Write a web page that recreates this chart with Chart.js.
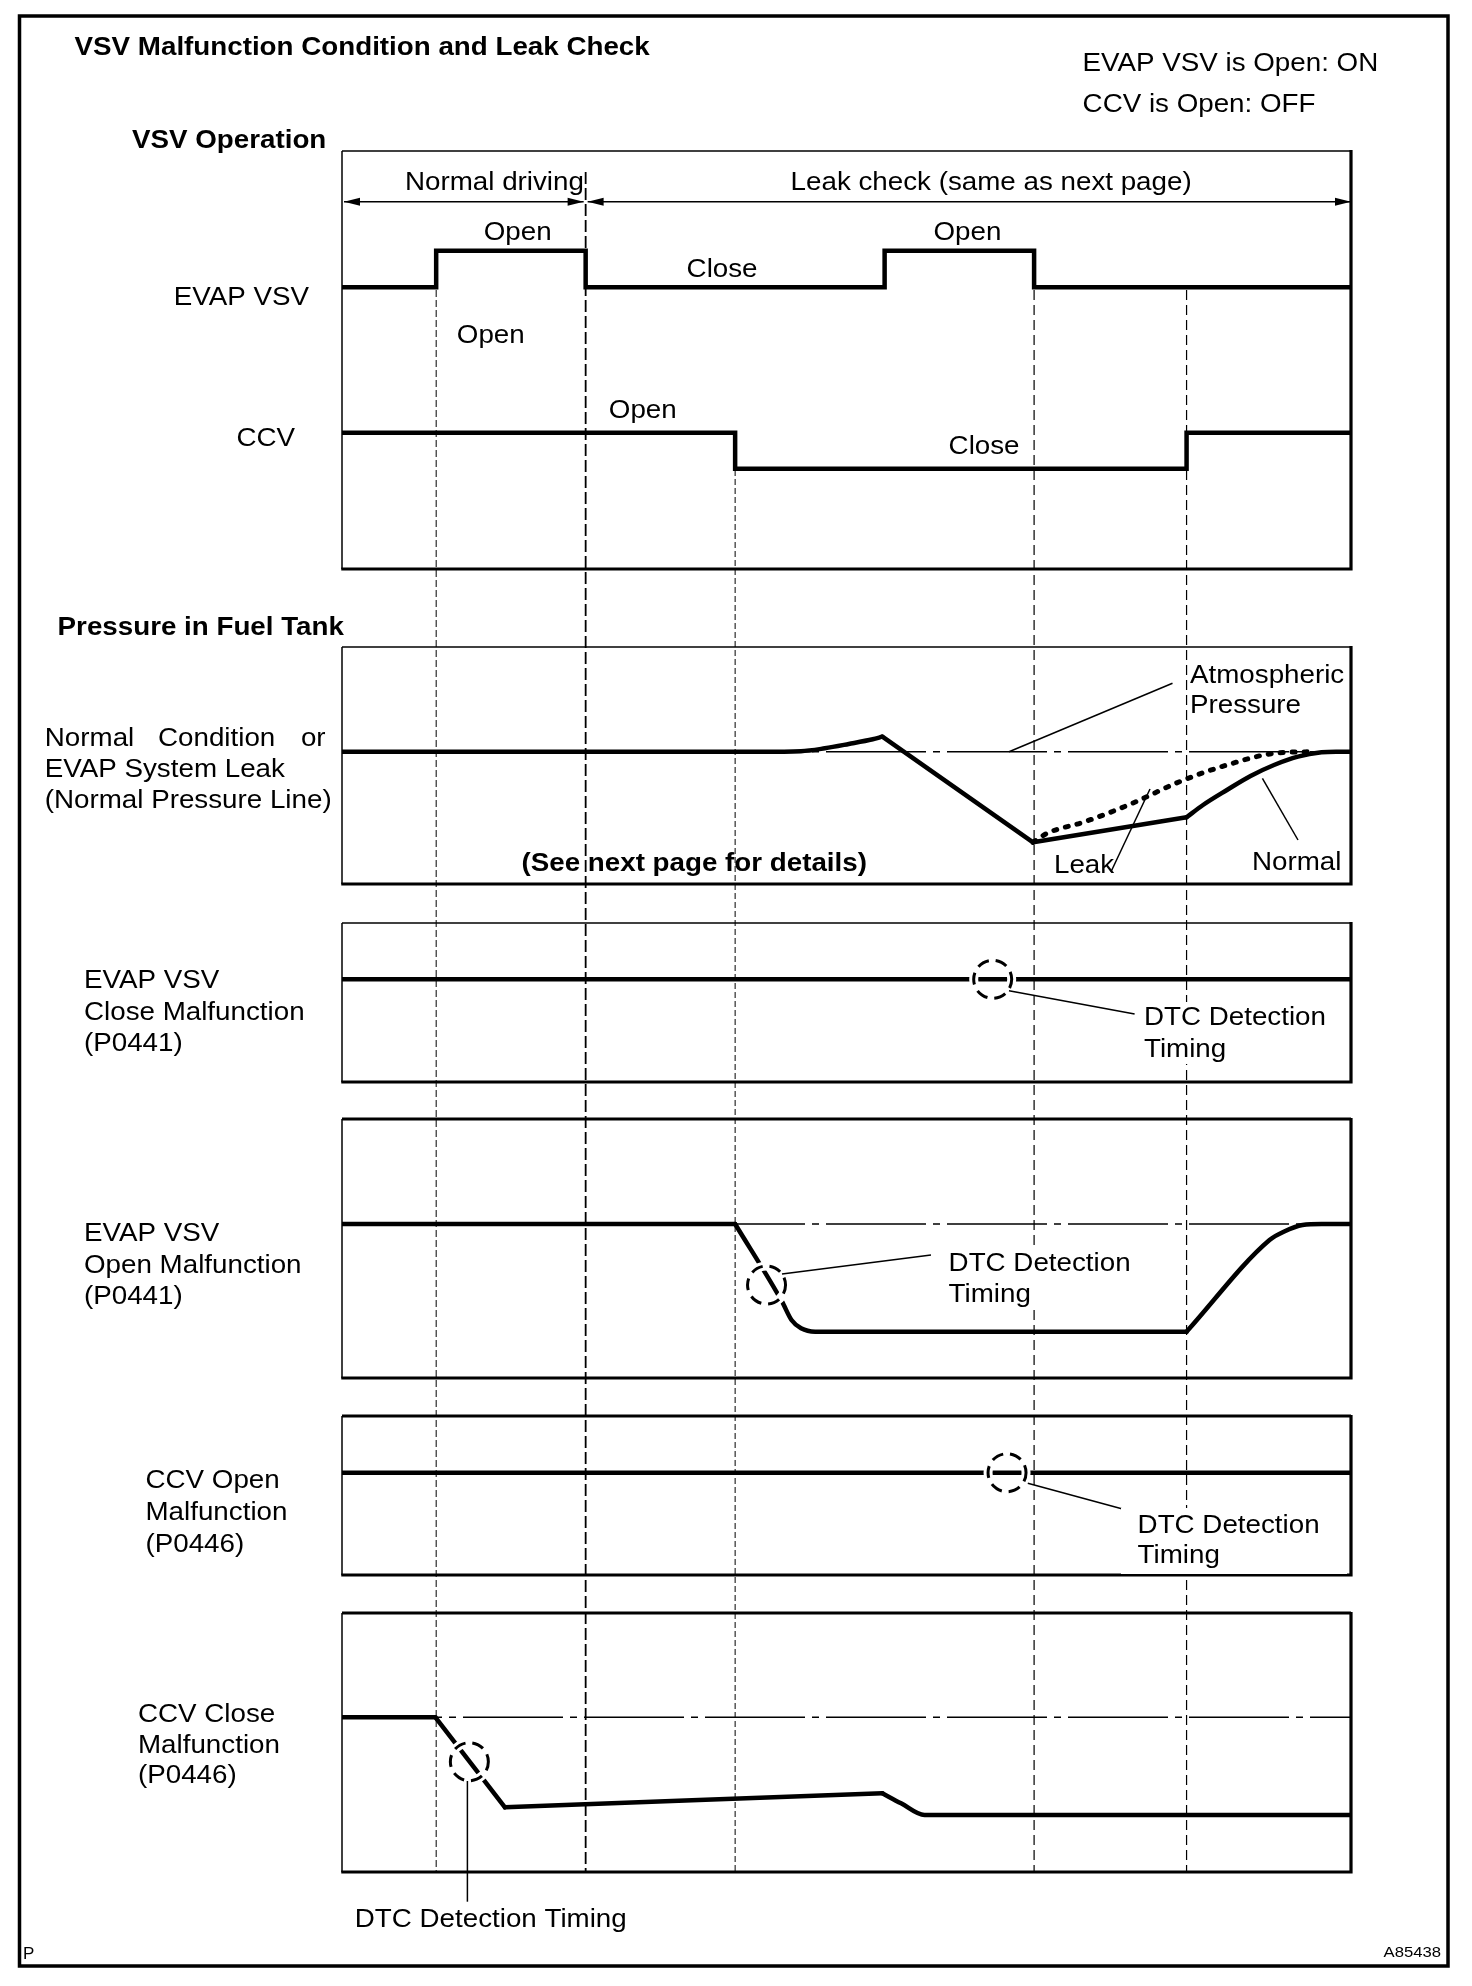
<!DOCTYPE html>
<html><head><meta charset="utf-8">
<script src="https://cdn.jsdelivr.net/npm/chart.js@4.4.1/dist/chart.umd.min.js"></script>
<style>
html,body{margin:0;padding:0;background:#fff;}
#page{position:relative;width:1472px;height:1986px;overflow:hidden;background:#fff;}
#page canvas{position:absolute;}
</style></head><body>
<div id="page"></div>
<script>
// ================= DATA =================
// time axis (arbitrary units, one unit = one phase of the sequence)
const TIME_RANGE = [0.37, 7.12];
const GUIDE_TIMES = [1.0, 2.0, 3.0, 5.0, 6.02];
const PHASE_SPLIT = 2.0; // Normal driving | Leak check

// VSV operation: 1 = open, 0 = closed
const EVAP_VSV_T = [0.37, 1.0, 2.0, 4.0, 5.0, 7.12];
const EVAP_VSV_STATE = [0, 1, 0, 1, 0, 0];
const CCV_T = [0.37, 3.0, 6.02, 7.12];
const CCV_STATE = [1, 0, 1, 1];

// Fuel tank pressure relative to atmospheric (0 = atmospheric)
const ATMOS_T = [0.37, 7.12];
const ATMOS_P = [0, 0];

const NORMAL_T = [0.37, 3.17, 3.44, 3.60, 3.76, 3.92, 3.985, 4.993, 6.02, 6.13, 6.29, 6.448, 6.605, 6.765, 6.923, 7.02, 7.12];
const NORMAL_P = [0, 0, 0.005, 0.034, 0.077, 0.124, 0.15, -0.906, -0.656, -0.533, -0.383, -0.243, -0.133, -0.05, -0.006, 0, 0];
const NORMAL_CORNERS = [6, 7, 8];

const LEAK_T = [4.993, 5.087, 5.34, 5.657, 5.973, 6.29, 6.606, 6.859];
const LEAK_P = [-0.906, -0.816, -0.70, -0.516, -0.30, -0.133, -0.016, 0];

const CLOSE_MALF_T = [0.37, 7.12];
const CLOSE_MALF_P = [0, 0];
const CLOSE_MALF_DTC = [4.723, 0];

const OPEN_MALF_T = [0.37, 3.0, 3.314, 3.377, 3.441, 3.536, 6.02, 6.575, 6.67, 6.796, 6.923, 7.12];
const OPEN_MALF_P = [0, 0, -0.777, -0.96, -1.043, -1.077, -1.077, -0.16, -0.077, -0.01, 0, 0];
const OPEN_MALF_CORNERS = [1, 6];
const OPEN_MALF_DTC = [3.21, -0.61];

const CCV_OPEN_MALF_T = [0.37, 7.12];
const CCV_OPEN_MALF_P = [0, 0];
const CCV_OPEN_MALF_DTC = [4.819, 0];

const CCV_CLOSE_MALF_T = [0.37, 0.995, 1.46, 3.985, 4.11, 4.267, 7.12];
const CCV_CLOSE_MALF_P = [0, 0, -0.90, -0.76, -0.86, -0.977, -0.977];
const CCV_CLOSE_MALF_CORNERS = [1, 2, 3];
const CCV_CLOSE_MALF_DTC = [1.222, -0.444];

// ================= LAYOUT =================
const PAGE_W = 1472, PAGE_H = 1986;
const PLOT_LEFT = 342, PLOT_RIGHT = 1351;
const PLOT_W = PLOT_RIGHT - PLOT_LEFT;
const PPU = 100; // pixels per pressure unit
const PANELS = {
  vsv:      {top:151,  height:418, topLine:1.5},
  normal:   {top:647,  height:237, topLine:1.5, zero:104.7},
  closeM:   {top:923,  height:159, topLine:1.5, zero:56.3},
  openM:    {top:1119, height:259, topLine:3,   zero:105},
  ccvOpen:  {top:1416, height:159, topLine:3,   zero:56.7},
  ccvClose: {top:1613, height:259, topLine:3,   zero:104.3}
};
const GUIDE_START_Y = [290, 172, 470, 290, 290];
const GUIDE_END_Y = 1872;
const GUIDE_STYLE = [
  {w:1, dash:[7,3]}, {w:1.8, dash:[12,4]}, {w:1, dash:[6,3]}, {w:1.2, dash:[10,5]}, {w:1.2, dash:[10,5]}
];
const FONT = '"Liberation Sans", Arial, Helvetica, sans-serif';
const SX = 1.11;

const TEXTS = [
  ['VSV Malfunction Condition and Leak Check', 74.6, 54.5, {bold:true}],
  ['EVAP VSV is Open: ON', 1082.6, 70.7],
  ['CCV is Open: OFF', 1082.6, 112],
  ['VSV Operation', 132, 148, {bold:true}],
  ['Normal driving', 405, 189.5],
  ['Leak check (same as next page)', 790.6, 189.5],
  ['Open', 483.7, 240],
  ['Close', 686.6, 277],
  ['Open', 933.5, 240],
  ['EVAP VSV', 309, 305, {align:'right'}],
  ['Open', 456.8, 343],
  ['CCV', 295, 445.5, {align:'right'}],
  ['Open', 608.8, 418],
  ['Close', 948.6, 454],
  ['Pressure in Fuel Tank', 57.6, 635, {bold:true}],
  ['Normal', 44.8, 746], ['Condition', 158, 746], ['or', 325.6, 746, {align:'right'}],
  ['EVAP System Leak', 44.8, 777],
  ['(Normal Pressure Line)', 44.8, 808],
  ['(See next page for details)', 521.5, 871, {bold:true}],
  ['Atmospheric', 1190, 683], ['Pressure', 1190, 713],
  ['Leak', 1054, 873], ['Normal', 1252, 870],
  ['EVAP VSV', 84, 988.3], ['Close Malfunction', 84, 1019.5], ['(P0441)', 84, 1050.5],
  ['DTC Detection', 1144, 1025, {box:[1138,1002,192,62]}], ['Timing', 1144, 1057],
  ['EVAP VSV', 84, 1241], ['Open Malfunction', 84, 1272.5], ['(P0441)', 84, 1303.5],
  ['DTC Detection', 948.6, 1270.7, {box:[944,1247,190,62]}], ['Timing', 948.6, 1302],
  ['CCV Open', 145.5, 1488.3], ['Malfunction', 145.5, 1520], ['(P0446)', 145.5, 1551.7],
  ['DTC Detection', 1137.6, 1532.7, {box:[1121,1508,226,66]}], ['Timing', 1137.6, 1563],
  ['CCV Close', 138, 1721.7], ['Malfunction', 138, 1752.5], ['(P0446)', 138, 1783.3],
  ['DTC Detection Timing', 354.8, 1927],
  ['P', 23, 1959, {size:17, sx:1}],
  ['A85438', 1441, 1957, {size:15, align:'right'}]
];
const LEADERS = [
  [1009, 751.7, 1172.5, 683.3],
  [1150, 789, 1111, 871.7],
  [1262.4, 778.3, 1298, 840],
  [1009, 990.7, 1134.6, 1014],
  [782, 1274, 931, 1255],
  [1027.8, 1483.3, 1126.3, 1510],
  [467.4, 1781, 467.4, 1901.7]
];
const ARROW_Y = 201.7;

// ================= HELPERS =================
const page = document.getElementById('page');
const pts = (T, V) => T.map((t, i) => ({x:t, y:V[i]}));
const SIGNAL = {borderColor:'#000', borderWidth:4.5, pointRadius:0, fill:false, order:1,
  borderCapStyle:'round', borderJoinStyle:'round', cubicInterpolationMode:'monotone'};

function pieces(T, P, corners, extra) {
  const cuts = [0, ...corners, T.length - 1];
  const out = [];
  for (let i = 0; i < cuts.length - 1; i++) {
    out.push(Object.assign({}, SIGNAL, extra || {}, {data: pts(T.slice(cuts[i], cuts[i+1] + 1), P.slice(cuts[i], cuts[i+1] + 1))}));
  }
  return out;
}
function atmos() {
  return {data: pts(ATMOS_T, ATMOS_P), borderColor:'#000', borderWidth:1.4, borderDash:[100,7,7,7],
    pointRadius:0, fill:false, order:5};
}
function dtc(v) {
  return {data:[{x:v[0], y:v[1]}], dtc:true, showLine:false, pointRadius:0, order:0};
}
function yRange(height, zero, ppu) {
  return {type:'linear', display:false, min: -(height - zero) / ppu, max: zero / ppu};
}

const dtcPlugin = {
  id:'dtcMarker',
  afterDatasetsDraw(chart) {
    const ctx = chart.ctx;
    chart.data.datasets.forEach((ds, i) => {
      if (!ds.dtc) return;
      chart.getDatasetMeta(i).data.forEach(pt => {
        ctx.save();
        ctx.beginPath();
        ctx.arc(pt.x, pt.y, 19, 0, Math.PI * 2);
        ctx.strokeStyle = '#fff'; ctx.lineWidth = 9; ctx.stroke();
        ctx.setLineDash([12, 7]); ctx.lineDashOffset = 3;
        ctx.strokeStyle = '#000'; ctx.lineWidth = 3; ctx.stroke();
        ctx.restore();
      });
    });
  }
};

function makeCanvas(left, top, w, h, z) {
  const c = document.createElement('canvas');
  c.width = w; c.height = h;
  c.style.left = left + 'px'; c.style.top = top + 'px';
  c.style.width = w + 'px'; c.style.height = h + 'px';
  c.style.zIndex = z;
  page.appendChild(c);
  return c;
}
const baseOptions = () => ({
  responsive:false, maintainAspectRatio:false, animation:false, devicePixelRatio:1, events:[],
  layout:{padding:0},
  plugins:{legend:{display:false}, tooltip:{enabled:false}, title:{display:false}}
});

function panelChart(panel, datasets, yScales) {
  const c = makeCanvas(PLOT_LEFT, panel.top, PLOT_W, panel.height, 1);
  const opts = baseOptions();
  opts.scales = Object.assign({x:{type:'linear', display:false, min:TIME_RANGE[0], max:TIME_RANGE[1]}}, yScales);
  return new Chart(c, {type:'line', data:{datasets}, options:opts, plugins:[dtcPlugin]});
}

// ================= PANELS =================
// VSV operation
panelChart(PANELS.vsv, [
  {data: pts(EVAP_VSV_T, EVAP_VSV_STATE), yAxisID:'yE', stepped:'before', borderColor:'#000', borderWidth:4.5,
   pointRadius:0, fill:false, borderJoinStyle:'miter'},
  {data: pts(CCV_T, CCV_STATE), yAxisID:'yC', stepped:'before', borderColor:'#000', borderWidth:4.5,
   pointRadius:0, fill:false, borderJoinStyle:'miter'}
], {yE: yRange(PANELS.vsv.height, 136.3, 36.6), yC: yRange(PANELS.vsv.height, 317.7, 36)});

// Normal condition / leak
panelChart(PANELS.normal, [
  ...pieces(NORMAL_T, NORMAL_P, NORMAL_CORNERS),
  Object.assign({}, SIGNAL, {data: pts(LEAK_T, LEAK_P), borderWidth:5, borderDash:[3,9], borderCapStyle:'round', order:2}),
  atmos()
], {y: yRange(PANELS.normal.height, PANELS.normal.zero, PPU)});

// EVAP VSV close malfunction
panelChart(PANELS.closeM, [
  ...pieces(CLOSE_MALF_T, CLOSE_MALF_P, [], {borderCapStyle:'butt'}),
  dtc(CLOSE_MALF_DTC)
], {y: yRange(PANELS.closeM.height, PANELS.closeM.zero, PPU)});

// EVAP VSV open malfunction
panelChart(PANELS.openM, [
  ...pieces(OPEN_MALF_T, OPEN_MALF_P, OPEN_MALF_CORNERS),
  atmos(),
  dtc(OPEN_MALF_DTC)
], {y: yRange(PANELS.openM.height, PANELS.openM.zero, PPU)});

// CCV open malfunction
panelChart(PANELS.ccvOpen, [
  ...pieces(CCV_OPEN_MALF_T, CCV_OPEN_MALF_P, [], {borderCapStyle:'butt'}),
  dtc(CCV_OPEN_MALF_DTC)
], {y: yRange(PANELS.ccvOpen.height, PANELS.ccvOpen.zero, PPU)});

// CCV close malfunction
panelChart(PANELS.ccvClose, [
  ...pieces(CCV_CLOSE_MALF_T, CCV_CLOSE_MALF_P, CCV_CLOSE_MALF_CORNERS),
  atmos(),
  dtc(CCV_CLOSE_MALF_DTC)
], {y: yRange(PANELS.ccvClose.height, PANELS.ccvClose.zero, PPU)});

// ================= PAGE OVERLAY =================
function drawText(ctx, s, x, y, o) {
  o = o || {};
  ctx.save();
  if (o.box) { ctx.fillStyle = '#fff'; ctx.fillRect(o.box[0], o.box[1], o.box[2], o.box[3]); }
  ctx.font = (o.bold ? 'bold ' : '') + (o.size || 25) + 'px ' + FONT;
  ctx.fillStyle = '#000';
  ctx.textBaseline = 'alphabetic';
  ctx.textAlign = o.align || 'left';
  ctx.translate(x, y);
  ctx.scale(o.sx || SX, 1);
  ctx.fillText(s, 0, 0);
  ctx.restore();
}
function arrowHead(ctx, x, y, dir) {
  ctx.beginPath();
  ctx.moveTo(x, y);
  ctx.lineTo(x - dir * 16, y - 4);
  ctx.lineTo(x - dir * 16, y + 4);
  ctx.closePath();
  ctx.fill();
}
const pagePlugin = {
  id:'pageDecor',
  beforeDatasetsDraw(chart) {
    const ctx = chart.ctx;
    ctx.save();
    ctx.strokeStyle = '#000';
    Object.values(PANELS).forEach(p => {
      const t = p.top, b = p.top + p.height;
      ctx.lineWidth = 1.5;
      ctx.beginPath(); ctx.moveTo(PLOT_LEFT, t); ctx.lineTo(PLOT_LEFT, b); ctx.stroke();
      ctx.lineWidth = p.topLine;
      ctx.beginPath(); ctx.moveTo(PLOT_LEFT, t); ctx.lineTo(PLOT_RIGHT, t); ctx.stroke();
      ctx.lineWidth = 3.2;
      ctx.beginPath(); ctx.moveTo(PLOT_LEFT - 0.75, b); ctx.lineTo(PLOT_RIGHT, b); ctx.lineTo(PLOT_RIGHT, t - 1); ctx.stroke();
    });
    ctx.restore();
  },
  afterDatasetsDraw(chart) {
    const ctx = chart.ctx;
    const xs = chart.scales.x;
    ctx.save();
    ctx.strokeStyle = '#000'; ctx.fillStyle = '#000';
    // phase arrows
    const xl = xs.getPixelForValue(TIME_RANGE[0]);
    const xm = xs.getPixelForValue(PHASE_SPLIT);
    const xr = xs.getPixelForValue(TIME_RANGE[1]);
    ctx.lineWidth = 1.5;
    ctx.beginPath(); ctx.moveTo(xl + 2, ARROW_Y); ctx.lineTo(xm - 2, ARROW_Y); ctx.stroke();
    ctx.beginPath(); ctx.moveTo(xm + 2, ARROW_Y); ctx.lineTo(xr, ARROW_Y); ctx.stroke();
    arrowHead(ctx, xl + 2, ARROW_Y, -1);
    arrowHead(ctx, xm - 2, ARROW_Y, 1);
    arrowHead(ctx, xm + 2, ARROW_Y, -1);
    arrowHead(ctx, xr, ARROW_Y, 1);
    // leader lines
    ctx.lineWidth = 1.5;
    LEADERS.forEach(l => { ctx.beginPath(); ctx.moveTo(l[0], l[1]); ctx.lineTo(l[2], l[3]); ctx.stroke(); });
    ctx.restore();
    // texts
    TEXTS.forEach(t => drawText(ctx, t[0], t[1], t[2], t[3]));
    // outer frame
    ctx.save();
    ctx.strokeStyle = '#000'; ctx.lineWidth = 3.5;
    ctx.strokeRect(19.5, 16, 1428.5, 1950);
    ctx.restore();
  }
};

const pageCanvas = makeCanvas(0, 0, PAGE_W, PAGE_H, 5);
const pageOpts = baseOptions();
pageOpts.layout = {padding:{left:PLOT_LEFT, right:PAGE_W - PLOT_RIGHT, top:0, bottom:0}};
pageOpts.scales = {
  x:{type:'linear', display:false, min:TIME_RANGE[0], max:TIME_RANGE[1]},
  y:{type:'linear', display:false, min:0, max:PAGE_H, reverse:true}
};
new Chart(pageCanvas, {
  type:'line',
  data:{datasets: GUIDE_TIMES.map((t, i) => ({
    data:[{x:t, y:GUIDE_START_Y[i]}, {x:t, y:GUIDE_END_Y}],
    borderColor:'#000', borderWidth:GUIDE_STYLE[i].w, borderDash:GUIDE_STYLE[i].dash,
    pointRadius:0, fill:false, clip:false
  }))},
  options:pageOpts,
  plugins:[pagePlugin]
});
</script>
</body></html>
